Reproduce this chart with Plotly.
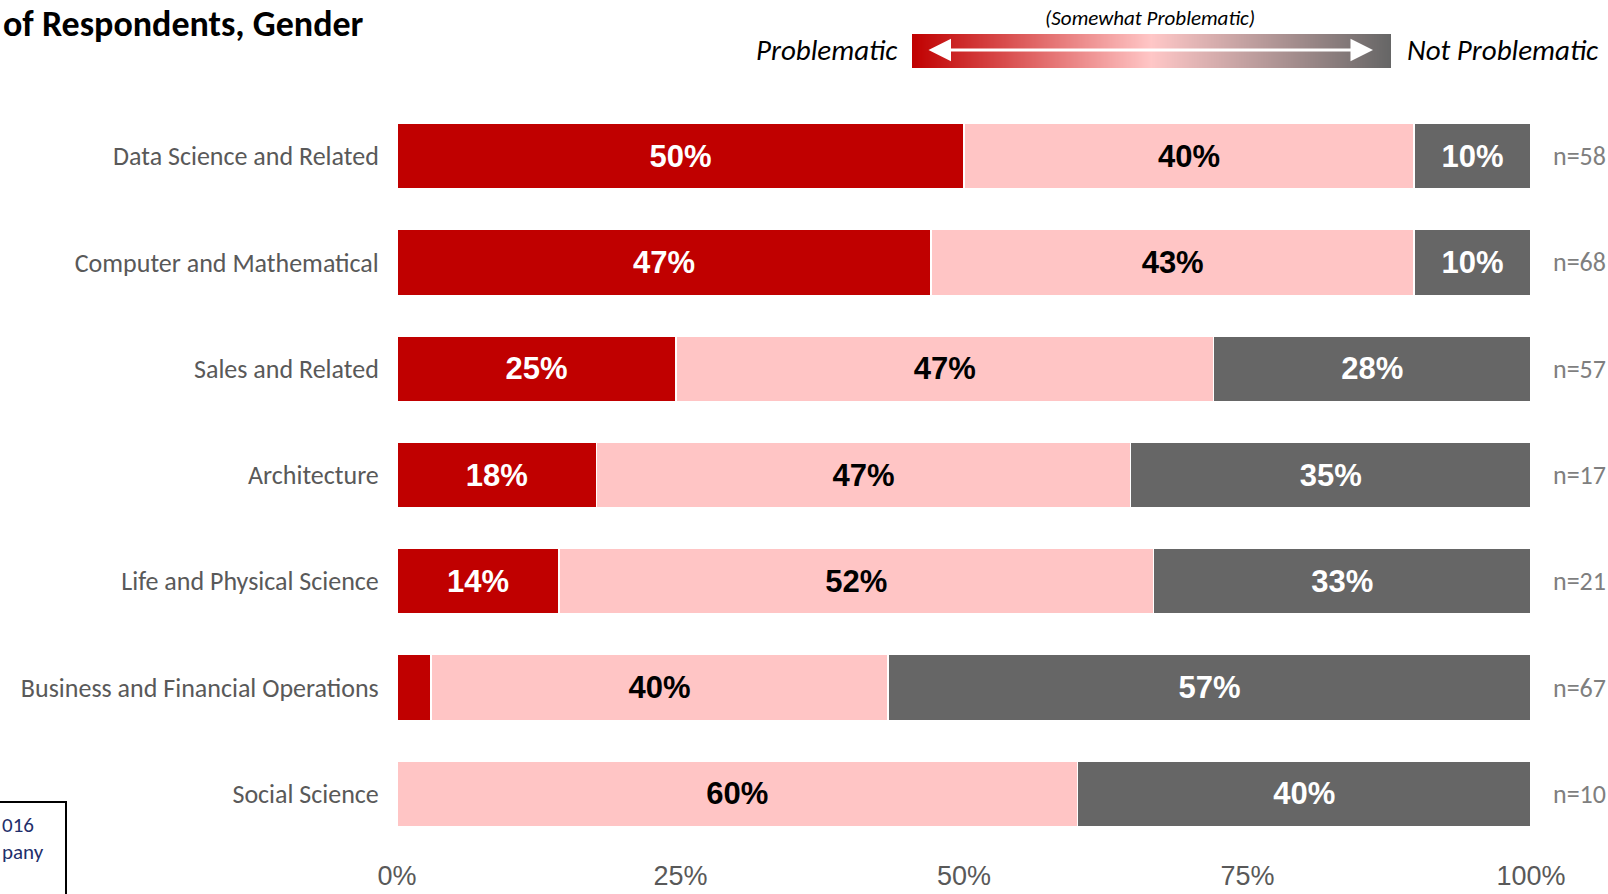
import base64
import struct
import zlib

import plotly.graph_objects as go

# ---- data ---------------------------------------------------------------
categories = [
    "Data Science and Related",
    "Computer and Mathematical",
    "Sales and Related",
    "Architecture",
    "Life and Physical Science",
    "Business and Financial Operations",
    "Social Science",
]
problematic = [50.0, 47.1, 24.6, 17.6, 14.3, 3.0, 0.0]
somewhat_problematic = [39.7, 42.6, 47.4, 47.1, 52.4, 40.3, 60.0]
not_problematic = [10.3, 10.3, 28.0, 35.3, 33.3, 56.7, 40.0]
sample_sizes = [58, 68, 57, 17, 21, 67, 10]

tick_values = [0, 25, 50, 75, 100]
tick_labels = ["0%", "25%", "50%", "75%", "100%"]

# ---- styling -------------------------------------------------------------
RED = "#C00000"
PINK = "#FFC5C5"
GRAY = "#666666"
LABEL_GRAY = "#595959"

W, H = 1608, 894
M_L, M_R, M_T, M_B = 397, 77, 103, 47
PLOT_W = W - M_L - M_R
PLOT_H = H - M_T - M_B

BODY_FONT = "Carlito, Calibri, Lato, sans-serif"
NUM_FONT = "Liberation Sans, Arial, sans-serif"
TICK_FONT = "Liberation Sans Narrow, Arial Narrow, Liberation Sans, Arial, sans-serif"


def px_x(px):
    """Pixel column -> paper x."""
    return (px - M_L) / PLOT_W


def px_y(py):
    """Pixel row (from top) -> paper y."""
    return (H - M_B - py) / PLOT_H


def seg_text(values):
    return [f"{round(v)}%" if v >= 5 else "" for v in values]


def gradient_png(width, stops):
    """One-row PNG with a linear RGB gradient through the given stops."""
    def lerp(a, b, t):
        return int(round(a + (b - a) * t))

    row = bytearray()
    for i in range(width):
        t = i / (width - 1)
        for k in range(len(stops) - 1):
            p0, c0 = stops[k]
            p1, c1 = stops[k + 1]
            if p0 <= t <= p1:
                f = (t - p0) / (p1 - p0) if p1 > p0 else 0
                row += bytes(lerp(c0[j], c1[j], f) for j in range(3))
                break
    raw = b"\x00" + bytes(row)

    def chunk(tag, data):
        return (struct.pack(">I", len(data)) + tag + data
                + struct.pack(">I", zlib.crc32(tag + data) & 0xFFFFFFFF))

    png = (b"\x89PNG\r\n\x1a\n"
           + chunk(b"IHDR", struct.pack(">IIBBBBB", width, 1, 8, 2, 0, 0, 0))
           + chunk(b"IDAT", zlib.compress(raw))
           + chunk(b"IEND", b""))
    return "data:image/png;base64," + base64.b64encode(png).decode()


# ---- bars ---------------------------------------------------------------
fig = go.Figure()
series = [
    ("Problematic", problematic, RED, "white"),
    ("Somewhat Problematic", somewhat_problematic, PINK, "black"),
    ("Not Problematic", not_problematic, GRAY, "white"),
]
for name, vals, color, txt_color in series:
    fig.add_trace(go.Bar(
        y=categories,
        x=vals,
        name=name,
        orientation="h",
        width=0.62,
        marker=dict(color=color, line=dict(color="white", width=1.5)),
        text=seg_text(vals),
        textposition="inside",
        insidetextanchor="middle",
        textangle=0,
        insidetextfont=dict(family=NUM_FONT, size=31, color=txt_color, weight="bold"),
        hoverinfo="skip",
        showlegend=False,
    ))

# sample size labels to the right of each bar
annotations = []
for cat, n in zip(categories, sample_sizes):
    annotations.append(dict(
        x=px_x(1551), xref="paper", xanchor="left",
        y=cat, yref="y", yanchor="middle",
        text=f"n={n}", showarrow=False,
        font=dict(family=BODY_FONT, size=26, color="#7F7F7F"),
    ))

# title fragment, top left
annotations.append(dict(
    x=px_x(1), xref="paper", xanchor="left",
    y=px_y(0), yref="paper", yanchor="top",
    text="<b>of Respondents, Gender</b>", showarrow=False,
    font=dict(family=BODY_FONT, size=36, color="black"),
))

# scale legend
annotations += [
    dict(x=px_x(900), xref="paper", xanchor="right",
         y=px_y(50), yref="paper", yanchor="middle",
         text="<i>Problematic</i>", showarrow=False,
         font=dict(family=BODY_FONT, size=29, color="black")),
    dict(x=px_x(1405), xref="paper", xanchor="left",
         y=px_y(50), yref="paper", yanchor="middle",
         text="<i>Not Problematic</i>", showarrow=False,
         font=dict(family=BODY_FONT, size=29, color="black")),
    dict(x=px_x(1150), xref="paper", xanchor="center",
         y=px_y(18), yref="paper", yanchor="middle",
         text="<i>(Somewhat Problematic)</i>", showarrow=False,
         font=dict(family=BODY_FONT, size=21, color="black")),
    dict(x=px_x(1373), xref="paper", y=px_y(50), yref="paper",
         ax=-446, ay=0, axref="pixel", ayref="pixel",
         text="", showarrow=True, arrowside="end+start",
         arrowhead=2, arrowsize=1.5, arrowwidth=3, arrowcolor="white"),
]

# footnote box fragment, bottom left
annotations += [
    dict(x=px_x(0), xref="paper", xanchor="left",
         y=px_y(825), yref="paper", yanchor="middle",
         text="016", showarrow=False,
         font=dict(family=BODY_FONT, size=21, color="#1F2F6B")),
    dict(x=px_x(0), xref="paper", xanchor="left",
         y=px_y(852), yref="paper", yanchor="middle",
         text="pany", showarrow=False,
         font=dict(family=BODY_FONT, size=21, color="#1F2F6B")),
]

shapes = [dict(
    type="rect", xref="paper", yref="paper",
    x0=px_x(-10), x1=px_x(66), y0=px_y(910), y1=px_y(802),
    line=dict(color="black", width=2), fillcolor="rgba(0,0,0,0)",
)]

images = [dict(
    source=gradient_png(480, [
        (0.0, (192, 0, 0)),
        (0.5, (255, 199, 199)),
        (1.0, (102, 102, 102)),
    ]),
    xref="paper", yref="paper",
    x=px_x(912), y=px_y(34),
    sizex=(1391 - 912) / PLOT_W, sizey=(68 - 34) / PLOT_H,
    xanchor="left", yanchor="top",
    sizing="stretch", layer="above",
)]

fig.update_layout(
    width=W, height=H, autosize=False,
    margin=dict(l=M_L, r=M_R, t=M_T, b=M_B, pad=0, autoexpand=False),
    paper_bgcolor="white", plot_bgcolor="white",
    barmode="stack", bargap=0.4,
    annotations=annotations, shapes=shapes, images=images,
    xaxis=dict(
        range=[0, 100], tickvals=tick_values, ticktext=tick_labels,
        showgrid=False, zeroline=False, showline=False,
        ticks="outside", ticklen=5, tickcolor="rgba(0,0,0,0)",
        tickfont=dict(family=TICK_FONT, size=27, color=LABEL_GRAY),
        automargin=False, fixedrange=True,
    ),
    yaxis=dict(
        categoryorder="array", categoryarray=categories,
        autorange="reversed",
        showgrid=False, zeroline=False, showline=False,
        ticks="outside", ticklen=12, tickcolor="rgba(0,0,0,0)",
        tickfont=dict(family=BODY_FONT, size=26, color=LABEL_GRAY),
        automargin=False, fixedrange=True,
    ),
)

fig.write_html("out.html")
